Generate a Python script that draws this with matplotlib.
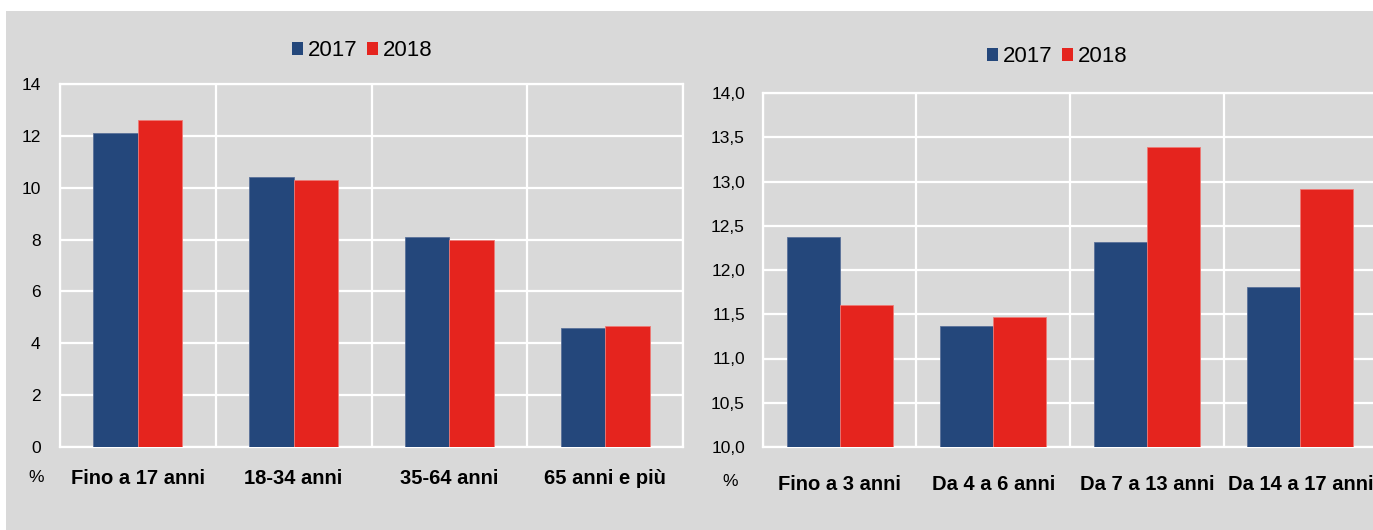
import matplotlib
matplotlib.use("Agg")
import matplotlib.pyplot as plt
from matplotlib.patches import Rectangle, Patch
import numpy as np

# Data
age_groups = ["Fino a 17 anni", "18-34 anni", "35-64 anni", "65 anni e più"]
age_2017 = [12.1, 10.4, 8.1, 4.6]
age_2018 = [12.6, 10.3, 8.0, 4.65]
left_yticks = [0, 2, 4, 6, 8, 10, 12, 14]

minor_groups = ["Fino a 3 anni", "Da 4 a 6 anni", "Da 7 a 13 anni", "Da 14 a 17 anni"]
minor_2017 = [12.37, 11.37, 12.32, 11.81]
minor_2018 = [11.61, 11.47, 13.39, 12.92]
right_yticks = [10.0, 10.5, 11.0, 11.5, 12.0, 12.5, 13.0, 13.5, 14.0]

years = ["2017", "2018"]

BLUE = "#24477b"
RED = "#e5241e"
BG = "#d9d9d9"

plt.rcParams["font.family"] = ["Liberation Sans", "DejaVu Sans"]

W, H = 1373, 530
fig = plt.figure(figsize=(W / 100, H / 100), dpi=100)
fig.patch.set_facecolor("white")
fig.patches.append(Rectangle((6 / W, 0), 1 - 6 / W, (H - 11) / H,
                             transform=fig.transFigure, facecolor=BG,
                             edgecolor="none", zorder=-5))


def px_axes(x0, x1, y_top, y_bot):
    return fig.add_axes([x0 / W, (H - y_bot) / H, (x1 - x0) / W, (y_bot - y_top) / H])


def draw_panel(ax, cats, v17, v18, yticks, ylim, width, fmt, pad_y, pad_x):
    ax.set_facecolor(BG)
    x = np.arange(len(cats))
    ax.bar(x - width / 2, v17, width, color=BLUE, edgecolor="#5a7099",
           linewidth=0.6, zorder=3)
    ax.bar(x + width / 2, v18, width, color=RED, edgecolor="#ee7a76",
           linewidth=0.6, zorder=3)
    ax.set_xlim(-0.5, len(cats) - 0.5)
    ax.set_ylim(*ylim)
    ax.set_yticks(yticks)
    ax.set_yticklabels([fmt(v) for v in yticks], fontsize=12.5)
    ax.set_xticks(x)
    ax.set_xticklabels(cats, fontsize=14.5, fontweight="bold")
    ax.set_xticks(np.arange(-0.5, len(cats)), minor=True)
    ax.tick_params(axis="both", which="both", length=0)
    ax.tick_params(axis="y", pad=pad_y)
    ax.tick_params(axis="x", pad=pad_x)
    ax.grid(axis="y", which="major", color="white", linewidth=1.6, zorder=1)
    ax.grid(axis="x", which="minor", color="white", linewidth=1.6, zorder=1)
    for s in ax.spines.values():
        s.set_color("white")
        s.set_linewidth(1.6)
        s.set_zorder(2)


ax1 = px_axes(60, 683, 84, 447)
draw_panel(ax1, age_groups, age_2017, age_2018, left_yticks, (0, 14), 0.285,
           lambda v: f"{v:d}", 14, 16)

ax2 = px_axes(763, 1377, 93, 447)
draw_panel(ax2, minor_groups, minor_2017, minor_2018, right_yticks, (10, 14), 0.345,
           lambda v: f"{v:.1f}".replace(".", ","), 13, 20)

# Unit labels under the y axes
fig.text(36 / W, (H - 477) / H, "%", ha="center", va="center", fontsize=12.5)
fig.text(730 / W, (H - 482) / H, "%", ha="center", va="center", fontsize=12.5)

handles = [Patch(facecolor=BLUE, edgecolor="none"), Patch(facecolor=RED, edgecolor="none")]
for cx, cy in [(362, 51), (1057, 57)]:
    fig.legend(handles, years, loc="center", bbox_to_anchor=(cx / W, (H - cy) / H),
               ncol=2, frameon=False, fontsize=16, handlelength=0.5,
               handleheight=0.5, handletextpad=0.2, columnspacing=0.45,
               borderpad=0, borderaxespad=0)

fig.savefig("out.png", dpi=100, facecolor=fig.get_facecolor())
